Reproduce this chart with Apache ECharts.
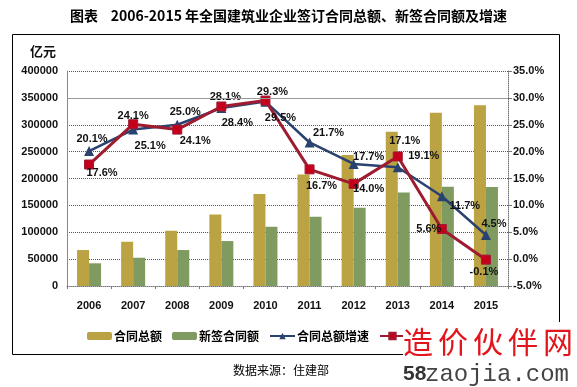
<!DOCTYPE html>
<html>
<head>
<meta charset="utf-8">
<script src="https://cdn.jsdelivr.net/npm/echarts/dist/echarts.min.js"></script>
<style>html,body{margin:0;padding:0;background:#fff}#c{width:577px;height:387px}</style>
</head>
<body>
<div id="c"></div>
<script>
var years = ['2006','2007','2008','2009','2010','2011','2012','2013','2014','2015'];
var totalContract = [66900, 82300, 102800, 133200, 171000, 207600, 243500, 286800, 322100, 336400];
var newContract = [42200, 52600, 66900, 83600, 110200, 128800, 145500, 174100, 184600, 184400];
var totalGrowth = [20.1, 24.1, 25.0, 28.1, 29.3, 21.7, 17.7, 17.1, 11.7, 4.5];
var newGrowth = [17.6, 25.1, 24.1, 28.4, 29.5, 16.7, 14.0, 19.1, 5.6, -0.1];
var leftTicks = {min: 0, max: 400000, interval: 50000};
var rightTicks = {min: -5, max: 35, interval: 5};

// label offsets (style only)
var blueLabelOffsets = [[3,-12],[0,-14],[8,-13],[4,-11],[7,-10],[19,-10],[15,-7],[7,-26],[23,10],[8,-11]];
var redLabelOffsets = [[13,8],[17,22],[18,11],[16,16],[15,17],[12,17],[15,5],[26,0],[-13,0],[-2,12]];

function withLabels(vals, offs) {
  return vals.map(function (v, i) {
    return {value: v, label: {offset: offs[i]}};
  });
}

var chart = echarts.init(document.getElementById('c'));
var numFont = 'Liberation Sans';
var labelStyle = {
  show: true, position: 'inside', fontSize: 11, fontWeight: 'bold', color: '#111',
  fontFamily: numFont, align: 'center', verticalAlign: 'middle',
  formatter: function (p) { return p.value.toFixed(1) + '%'; }
};
var wmChars = ['造','价','伙','伴','网'];
var wmGraphics = [
  {type: 'rect', shape: {x: 403, y: 322, width: 174, height: 65}, style: {fill: '#fff'}, z: 100}
];
wmChars.forEach(function (ch, i) {
  wmGraphics.push({type: 'text', x: 403 + i * 35, y: 327, z: 101,
    style: {text: ch, fontSize: 30, fontFamily: 'Noto Sans CJK SC', fill: '#e3141b'}});
});
wmGraphics.push({type: 'text', x: 403, y: 364, z: 101,
  style: {text: '58', fontSize: 21, fontWeight: 'bold', fontFamily: 'Liberation Sans', fill: '#333'}});
wmGraphics.push({type: 'text', x: 425, y: 363, z: 101,
  style: {text: 'zaojia.com', fontSize: 24, fontFamily: 'Liberation Mono', fill: '#444'}});

var option = {
  animation: false,
  backgroundColor: '#fff',
  title: {
    text: '图表    2006-2015 年全国建筑业企业签订合同总额、新签合同额及增速',
    left: 'center', top: 4,
    textStyle: {fontSize: 14, fontWeight: 'bold', color: '#000', fontFamily: 'Noto Sans CJK SC'}
  },
  graphic: [
    {type: 'rect', shape: {x: 12.5, y: 34.5, width: 547, height: 320}, style: {fill: 'none', stroke: '#000', lineWidth: 1}},
    {type: 'text', x: 30, y: 45, style: {text: '亿元', fontSize: 13, fontWeight: 'bold', fontFamily: 'Noto Sans CJK SC', fill: '#111'}},
    {type: 'text', x: 281, y: 370, style: {text: '数据来源：住建部', fontSize: 12, fontFamily: 'Noto Sans CJK SC', fill: '#000', align: 'center', verticalAlign: 'middle'}}
  ].concat(wmGraphics),
  legend: {
    left: 82, top: 325, itemWidth: 25, itemHeight: 8, itemGap: 10,
    textStyle: {fontSize: 12, fontWeight: 'bold', color: '#000', fontFamily: 'Noto Sans CJK SC', padding: [0, 0, 0, -3]},
    data: ['合同总额', '新签合同额', '合同总额增速', '新签合同额增速']
  },
  grid: {left: 67, right: 69, top: 71, bottom: 101, containLabel: false},
  xAxis: {
    type: 'category', data: years,
    axisLine: {lineStyle: {color: '#777', type: 'dotted', width: 1}},
    axisTick: {show: true, length: 3, lineStyle: {color: '#777'}},
    axisLabel: {fontSize: 11, fontWeight: 'bold', color: '#111', margin: 14, fontFamily: numFont}
  },
  yAxis: [
    {
      type: 'value', min: leftTicks.min, max: leftTicks.max, interval: leftTicks.interval,
      axisLine: {show: true, lineStyle: {color: '#888', width: 1}},
      axisTick: {show: false},
      axisLabel: {fontSize: 11, fontWeight: 'bold', color: '#111', margin: 9, fontFamily: numFont,
        formatter: function (v) { return String(v); }},
      splitLine: {show: true, lineStyle: {color: '#555', type: 'dotted', width: 1}}
    },
    {
      type: 'value', min: rightTicks.min, max: rightTicks.max, interval: rightTicks.interval,
      axisLine: {show: true, lineStyle: {color: '#777', type: 'dotted', width: 1}},
      axisTick: {show: true, length: 4, lineStyle: {color: '#777'}},
      axisLabel: {fontSize: 11, fontWeight: 'bold', color: '#111', margin: 5, fontFamily: numFont,
        formatter: function (v) { return v.toFixed(1) + '%'; }},
      splitLine: {show: false}
    }
  ],
  series: [
    {
      name: '合同总额', type: 'bar', data: totalContract, barWidth: 12, barGap: '0%',
      itemStyle: {color: '#bba243'},
      markLine: {silent: true, symbol: 'none', label: {show: false},
        lineStyle: {color: '#999', type: 'solid', width: 1}, data: [{yAxis: 350000}]}
    },
    {
      name: '新签合同额', type: 'bar', data: newContract, barWidth: 12, barGap: '0%',
      itemStyle: {color: '#7f9b60'}
    },
    {
      name: '合同总额增速', type: 'line', yAxisIndex: 1,
      data: withLabels(totalGrowth, blueLabelOffsets),
      symbol: 'triangle', symbolSize: 10,
      lineStyle: {color: '#2a4270', width: 2.5},
      itemStyle: {color: '#2a4270'},
      label: labelStyle, z: 3
    },
    {
      name: '新签合同额增速', type: 'line', yAxisIndex: 1,
      data: withLabels(newGrowth, redLabelOffsets),
      symbol: 'rect', symbolSize: 9,
      lineStyle: {color: '#9e1c30', width: 3},
      itemStyle: {color: '#c4001c', borderColor: '#9e1c30', borderWidth: 1},
      label: labelStyle, z: 4
    }
  ]
};
chart.setOption(option);
</script>
</body>
</html>
